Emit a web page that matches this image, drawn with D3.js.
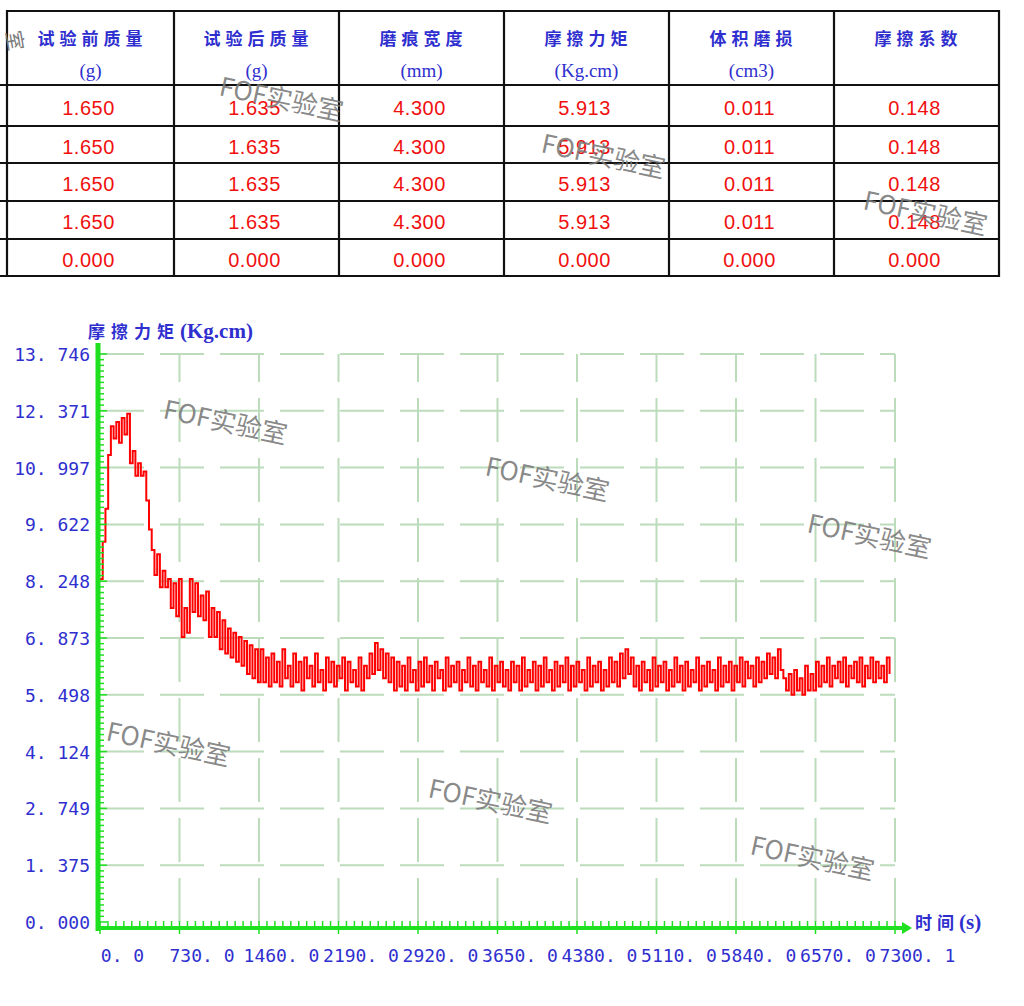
<!DOCTYPE html>
<html>
<head>
<meta charset="utf-8">
<script src="https://cdn.jsdelivr.net/npm/d3@7"></script>
<style>
html,body{margin:0;padding:0;background:#fff;}
svg{display:block;}
</style>
</head>
<body>
<svg id="chart" width="1024" height="1006"></svg>
<script>
// ---------- table data ----------
const tableHeaders = [["试验前质量","(g)"],["试验后质量","(g)"],["磨痕宽度","(mm)"],["摩擦力矩","(Kg.cm)"],["体积磨损","(cm3)"],["摩擦系数",""]];
const tableRows = [
  ["1.650","1.635","4.300","5.913","0.011","0.148"],
  ["1.650","1.635","4.300","5.913","0.011","0.148"],
  ["1.650","1.635","4.300","5.913","0.011","0.148"],
  ["1.650","1.635","4.300","5.913","0.011","0.148"],
  ["0.000","0.000","0.000","0.000","0.000","0.000"]
];

// ---------- chart data ----------
const yTitleCn = "摩擦力矩";
const yTitleUnit = "(Kg.cm)";
const xTitleCn = "时间";
const xTitleUnit = "(s)";
const xMax = 7300.1;
const yMax = 13.746;
const xTickValues = [0, 730.01, 1460.02, 2190.03, 2920.04, 3650.05, 4380.06, 5110.07, 5840.08, 6570.09, 7300.1];
const xTickLabels = ["0. 0","730. 0","1460. 0","2190. 0","2920. 0","3650. 0","4380. 0","5110. 0","5840. 0","6570. 0","7300. 1"];
const yTickValues = [0, 1.3746, 2.7492, 4.1238, 5.4984, 6.873, 8.2476, 9.6222, 10.9968, 12.3714, 13.746];
const yTickLabels = ["0. 000","1. 375","2. 749","4. 124","5. 498","6. 873","8. 248","9. 622","10. 997","12. 371","13. 746"];
const sampleInterval = 25; // seconds between recorded samples
const torque = [
  8.3, 9.2, 10.0, 11.3, 12.0, 11.7, 12.1, 11.6, 12.2, 11.8, 12.3,
  11.1, 11.4, 10.8, 11.1, 10.8, 10.9, 10.2, 9.5, 9.0, 8.4,
  8.9, 8.1, 8.5, 8.1, 8.3, 7.6, 8.2, 7.4, 8.3, 6.9,
  7.6, 7.0, 8.3, 7.5, 8.2, 7.4, 7.9, 7.3, 8.0, 6.9,
  7.6, 6.9, 7.5, 6.6, 7.3, 6.5, 7.1, 6.4, 7.0, 6.3,
  6.9, 6.2, 6.8, 6.0, 6.7, 5.9, 6.6, 5.8, 6.6, 5.8,
  6.4, 5.7, 6.5, 5.8, 6.3, 5.7, 6.6, 5.9, 6.2, 5.7,
  6.5, 5.8, 6.3, 5.6, 6.4, 5.9, 6.2, 5.7, 6.5, 5.8,
  6.1, 5.6, 6.4, 5.8, 6.3, 5.7, 6.2, 5.9, 6.4, 5.6,
  6.3, 5.8, 6.1, 5.7, 6.4, 5.6, 6.2, 5.9, 6.5, 6.0,
  6.75, 6.1, 6.6, 5.9, 6.5, 5.8, 6.4, 5.6, 6.3, 5.7,
  6.2, 5.6, 6.4, 5.8, 6.1, 5.6, 6.3, 5.7, 6.4, 5.8,
  6.2, 5.6, 6.3, 5.9, 6.1, 5.6, 6.4, 5.7, 6.2, 5.8,
  6.3, 5.6, 6.1, 5.8, 6.4, 5.7, 6.2, 5.6, 6.3, 5.8,
  6.1, 5.7, 6.4, 5.6, 6.2, 5.8, 6.3, 5.7, 6.1, 5.6,
  6.3, 5.8, 6.2, 5.6, 6.4, 5.7, 6.1, 5.8, 6.3, 5.6,
  6.2, 5.7, 6.4, 5.8, 6.1, 5.6, 6.3, 5.7, 6.2, 5.8,
  6.4, 5.6, 6.2, 5.7, 6.3, 5.8, 6.1, 5.6, 6.4, 5.7,
  6.2, 5.8, 6.3, 5.6, 6.1, 5.7, 6.4, 5.8, 6.3, 5.7,
  6.5, 5.9, 6.6, 6.0, 6.4, 5.7, 6.2, 5.6, 6.3, 5.8,
  6.1, 5.6, 6.4, 5.7, 6.2, 5.8, 6.3, 5.6, 6.1, 5.7,
  6.4, 5.8, 6.2, 5.6, 6.3, 5.7, 6.1, 5.8, 6.4, 5.6,
  6.2, 5.7, 6.3, 5.8, 6.1, 5.6, 6.4, 5.7, 6.2, 5.8,
  6.3, 5.6, 6.2, 5.8, 6.4, 5.7, 6.3, 5.9, 6.2, 5.7,
  6.4, 5.8, 6.3, 5.9, 6.5, 6.0, 6.4, 5.9, 6.6, 6.1,
  5.9, 5.6, 6.0, 5.5, 6.1, 5.6, 5.9, 5.5, 6.2, 5.6,
  6.0, 5.6, 6.3, 5.7, 6.2, 5.8, 6.4, 5.7, 6.2, 5.9,
  6.3, 5.8, 6.4, 5.7, 6.2, 5.9, 6.3, 5.8, 6.4, 5.7,
  6.2, 5.9, 6.4, 5.8, 6.3, 5.9, 6.2, 5.8, 6.4, 6.0
];
const watermarkText = "FOF实验室";
const watermarks = [[218,95],[540,152],[862,209],[162,418],[484,475],[806,532],[105,740],[427,797],[749,854]];

// ---------- drawing ----------
const svg = d3.select("#chart");
svg.append("rect").attr("width",1024).attr("height",1006).attr("fill","#fff");

const blue = "#2f2fcf";
const red = "#f01010";
const green = "#1fe01f";

// ---- table ----
const colEdges = [7, 174, 339, 504, 669, 834, 999];
const rowEdges = [11, 85, 126, 163, 201, 239, 276];
const tbl = svg.append("g");
tbl.selectAll("line.h").data(rowEdges).join("line")
  .attr("x1",(d,i)=> i===0 ? colEdges[0] : 0).attr("x2",colEdges[colEdges.length-1]+1)
  .attr("y1",d=>d).attr("y2",d=>d).attr("stroke","#111").attr("stroke-width",2.2);
tbl.selectAll("line.v").data(colEdges).join("line")
  .attr("x1",d=>d).attr("x2",d=>d).attr("y1",rowEdges[0]-1).attr("y2",rowEdges[rowEdges.length-1]+1)
  .attr("stroke","#111").attr("stroke-width",2.2);
tableHeaders.forEach((h,i)=>{
  const cx = (colEdges[i]+colEdges[i+1])/2;
  tbl.append("text").attr("x",cx+2).attr("y",45).attr("text-anchor","middle")
    .attr("font-family","'Noto Sans CJK SC', sans-serif").attr("font-size",17).attr("font-weight",700)
    .attr("letter-spacing","5px").attr("fill",blue).text(h[0]);
  if (h[1]) tbl.append("text").attr("x",cx).attr("y",77).attr("text-anchor","middle")
    .attr("font-family","'Liberation Serif', serif").attr("font-size",19)
    .attr("fill",blue).text(h[1]);
});
tableRows.forEach((r,ri)=>{
  const cy = (rowEdges[ri+1]+rowEdges[ri+2])/2 + 2;
  r.forEach((v,ci)=>{
    const cx = (colEdges[ci]+colEdges[ci+1])/2 - 2;
    tbl.append("text").attr("x",cx).attr("y",cy).attr("text-anchor","middle")
      .attr("dominant-baseline","central")
      .attr("font-family","'Liberation Sans', sans-serif").attr("font-size",20)
      .attr("letter-spacing","0.5px").attr("fill",red).text(v);
  });
});

// ---- chart ----
const x = d3.scaleLinear().domain([0,xMax]).range([100,895]);
const y = d3.scaleLinear().domain([0,yMax]).range([922,354]);

const gridColor = "#bcdcbc";
const grid = svg.append("g");
grid.selectAll("line.gh").data(yTickValues.slice(1)).join("line")
  .attr("x1",x(0)).attr("x2",x(xMax)).attr("y1",d=>y(d)).attr("y2",d=>y(d))
  .attr("stroke",gridColor).attr("stroke-width",2).attr("stroke-dasharray","44,16");
grid.selectAll("line.gv").data(xTickValues.slice(1)).join("line")
  .attr("x1",d=>x(d)).attr("x2",d=>x(d)).attr("y1",y(0)).attr("y2",y(yMax))
  .attr("stroke",gridColor).attr("stroke-width",2).attr("stroke-dasharray","44,16");

const series = torque.map((v,i)=>({t:i*sampleInterval, v}));
const line = d3.line().x(d=>x(d.t)).y(d=>y(d.v)).curve(d3.curveStepAfter);
svg.append("path").datum(series).attr("d",line)
  .attr("fill","none").attr("stroke","#ff0000").attr("stroke-width",2);

const yAxis = d3.axisLeft(y).tickValues(yTickValues).tickFormat((d,i)=>yTickLabels[i]).tickSize(0).tickPadding(0);
const ya = svg.append("g").attr("transform","translate(90,0)").call(yAxis);
ya.select(".domain").remove();
ya.selectAll("text").attr("font-family","'DejaVu Sans Mono', monospace").attr("font-size",18)
  .attr("fill",blue).attr("dy","0.36em");

const xAxis = d3.axisBottom(x).tickValues(xTickValues).tickFormat((d,i)=>xTickLabels[i]).tickSize(0).tickPadding(0);
const xa = svg.append("g").attr("transform","translate(22,962)").call(xAxis);
xa.select(".domain").remove();
xa.selectAll("text").attr("font-family","'DejaVu Sans Mono', monospace").attr("font-size",18)
  .attr("fill",blue).attr("dy","0");

const yMinor = d3.range(0,101).map(k=>k*yMax/100);
svg.append("g").selectAll("line").data(yMinor).join("line")
  .attr("x1",100).attr("x2",(d,i)=> i%10===0 ? 107 : 104)
  .attr("y1",d=>y(d)).attr("y2",d=>y(d)).attr("stroke",green).attr("stroke-width",1.5);
const xMinor = d3.range(0,101).map(k=>k*xMax/100);
svg.append("g").selectAll("line").data(xMinor).join("line")
  .attr("x1",d=>x(d)).attr("x2",d=>x(d))
  .attr("y1",(d,i)=> i%10===0 ? 934 : 926).attr("y2",921).attr("stroke",green).attr("stroke-width",1.5);

svg.append("line").attr("x1",98).attr("x2",98).attr("y1",343).attr("y2",931)
  .attr("stroke",green).attr("stroke-width",5);
svg.append("line").attr("x1",96).attr("x2",904).attr("y1",928).attr("y2",928)
  .attr("stroke",green).attr("stroke-width",4);
svg.append("path").attr("d","M902,922 L912,928 L902,934 Z").attr("fill",green);

// titles
const yt = svg.append("text").attr("x",88).attr("y",338).attr("fill",blue);
yt.append("tspan").attr("font-family","'Noto Sans CJK SC', sans-serif").attr("font-size",17)
  .attr("font-weight",700).attr("letter-spacing","6px").text(yTitleCn);
yt.append("tspan").attr("font-family","'Liberation Serif', serif").attr("font-size",21)
  .attr("font-weight",700).text(yTitleUnit);
const xt = svg.append("text").attr("x",915).attr("y",929).attr("fill",blue);
xt.append("tspan").attr("font-family","'Noto Sans CJK SC', sans-serif").attr("font-size",17)
  .attr("font-weight",700).attr("letter-spacing","5px").text(xTitleCn);
xt.append("tspan").attr("font-family","'Liberation Serif', serif").attr("font-size",21)
  .attr("font-weight",700).text(xTitleUnit);

// watermarks
const wm = svg.append("g");
wm.selectAll("text").data(watermarks).join("text")
  .attr("transform",d=>`translate(${d[0]},${d[1]}) rotate(12)`)
  .attr("font-family","'Noto Sans CJK SC', sans-serif").attr("font-size",26)
  .attr("fill","#7a7a7a").attr("fill-opacity",0.9).text(watermarkText);
wm.append("text").attr("transform","translate(6,32) rotate(80)")
  .attr("font-family","'Noto Sans CJK SC', sans-serif").attr("font-size",20)
  .attr("fill","#7a7a7a").text("室");
</script>
</body>
</html>
